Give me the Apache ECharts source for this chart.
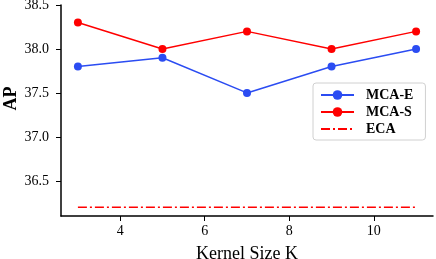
<!DOCTYPE html>
<html><head><meta charset="utf-8">
<script src="https://cdn.jsdelivr.net/npm/echarts@6/dist/echarts.min.js"></script>
<style>html,body{margin:0;padding:0;background:#fff}#c{width:436px;height:259px}</style>
</head><body><div id="c"></div>
<script>
const kernelSizes = [3, 5, 7, 9, 11];
const mcaE = [37.8, 37.9, 37.5, 37.8, 38.0];
const mcaS = [38.3, 38.0, 38.2, 38.0, 38.2];
const eca = [36.2, 36.2, 36.2, 36.2, 36.2];
const xTicks = [4, 6, 8, 10];
const yTicks = [36.5, 37.0, 37.5, 38.0, 38.5];

const font = 'Liberation Serif';
const chart = echarts.init(document.getElementById('c'), null, {renderer: 'canvas'});
const pair = arr => kernelSizes.map((k, i) => [k, arr[i]]);
chart.setOption({
  animation: false,
  grid: {left: 61, right: 3, top: 5, bottom: 43, outerBoundsMode: 'none', containLabel: false},
  xAxis: {
    type: 'value', min: 2.6, max: 11.4,
    name: 'Kernel Size K', nameLocation: 'middle', nameGap: 29,
    nameTextStyle: {fontFamily: font, fontSize: 18, color: '#000'},
    axisLine: {lineStyle: {color: '#000', width: 1.5}},
    axisTick: {customValues: xTicks, length: 5, lineStyle: {color: '#000'}},
    axisLabel: {customValues: xTicks, fontFamily: font, fontSize: 14, color: '#000', margin: 8},
    splitLine: {show: false}
  },
  yAxis: {
    type: 'value', min: 36.1, max: 38.5,
    name: '{s|}{a|AP}', nameLocation: 'middle', nameGap: 41, nameMoveOverlap: false,
    nameTextStyle: {fontFamily: font, fontSize: 18, fontWeight: 'bold', color: '#000', lineHeight: 18,
      rich: {s: {width: 24}, a: {fontFamily: font, fontSize: 18, fontWeight: 'bold', color: '#000', lineHeight: 18}}},
    axisLine: {show: true, lineStyle: {color: '#000', width: 1.5}},
    axisTick: {show: true, customValues: yTicks, length: 5, lineStyle: {color: '#000'}},
    axisLabel: {customValues: yTicks, fontFamily: font, fontSize: 14, color: '#000', margin: 12,
      formatter: v => v.toFixed(1)},
    splitLine: {show: false}
  },
  legend: {
    left: 313, top: 83, orient: 'vertical', itemGap: 3, itemWidth: 33, itemHeight: 12,
    padding: [5, 12, 4, 7],
    borderColor: '#d0d0d0', borderWidth: 1, borderRadius: 3, backgroundColor: '#fff',
    textStyle: {fontFamily: font, fontSize: 14, fontWeight: 'bold', color: '#000', padding: [0, 0, 0, 7]},
    data: ['MCA-E', 'MCA-S', {name: 'ECA', itemStyle: {opacity: 0}}]
  },
  series: [
    {name: 'MCA-E', type: 'line', data: pair(mcaE), symbol: 'circle', symbolSize: 8,
      itemStyle: {color: '#2b4cf2'}, lineStyle: {color: '#2b4cf2', width: 1.5}},
    {name: 'MCA-S', type: 'line', data: pair(mcaS), symbol: 'circle', symbolSize: 8,
      itemStyle: {color: '#ff0000'}, lineStyle: {color: '#ff0000', width: 1.5}},
    {name: 'ECA', type: 'line', data: pair(eca), symbol: 'none',
      itemStyle: {color: '#ff0000'}, lineStyle: {color: '#ff0000', width: 1.5, type: [9, 3, 2, 3]}}
  ]
});
</script></body></html>
